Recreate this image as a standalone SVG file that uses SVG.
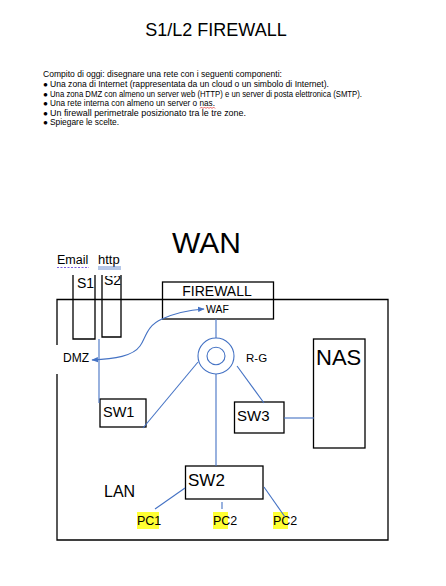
<svg xmlns="http://www.w3.org/2000/svg" width="446" height="586" viewBox="0 0 446 586">
<defs>
<style>
text{font-family:"Liberation Sans",Arial,sans-serif;fill:#000}
.box{fill:none;stroke:#000;stroke-width:1.3}
.ln{fill:none;stroke:#4472C4;stroke-width:1.1}
.p{font-size:8.2px}
.hl{fill:#FFFF33}
</style>
<marker id="ah" viewBox="0 0 10 10" refX="9" refY="5" markerWidth="6" markerHeight="6" orient="auto-start-reverse">
<path d="M0,1 L10,5 L0,9 z" fill="#4472C4"/>
</marker>
<clipPath id="srv"><rect x="60" y="276" width="80" height="80"/></clipPath>
</defs>
<rect width="446" height="586" fill="#fff"/>

<g id="title"><text x="216" y="36" font-size="18" text-anchor="middle">S1/L2 FIREWALL</text></g>

<g id="task">
<text class="p" x="43" y="77" textLength="239" lengthAdjust="spacingAndGlyphs">Compito di oggi: disegnare una rete con i seguenti componenti:</text>
<text class="p" x="43" y="87">●</text><text class="p" x="50" y="87" textLength="279" lengthAdjust="spacingAndGlyphs">Una zona di Internet (rappresentata da un cloud o un simbolo di Internet).</text>
<text class="p" x="43" y="96.5">●</text><text class="p" x="50" y="96.5" textLength="312" lengthAdjust="spacingAndGlyphs">Una zona DMZ con almeno un server web (HTTP) e un server di posta elettronica (SMTP).</text>
<text class="p" x="43" y="106">●</text><text class="p" x="50" y="106" textLength="165" lengthAdjust="spacingAndGlyphs">Una rete interna con almeno un server o nas.</text>
<text class="p" x="43" y="115.5">●</text><text class="p" x="50" y="115.5" textLength="196" lengthAdjust="spacingAndGlyphs">Un firewall perimetrale posizionato tra le tre zone.</text>
<text class="p" x="43" y="125">●</text><text class="p" x="50" y="125" textLength="69" lengthAdjust="spacingAndGlyphs">Spiegare le scelte.</text>
<path d="M200,108.5 l1.5,-1.5 l1.5,1.5 l1.5,-1.5 l1.5,1.5 l1.5,-1.5 l1.5,1.5 l1.5,-1.5 l1.5,1.5 l1.5,-1.5 l1.5,1.5" fill="none" stroke="#e02020" stroke-width="0.7"/>
</g>

<g id="wan"><text x="172" y="253" font-size="30">WAN</text></g>

<g id="zone">
<path class="box" d="M57,345 V299.5 H388 V540 H57 V374"/>
</g>

<g id="labels">
<text x="57" y="264" font-size="12.5">Email</text>
<path d="M57,267.5 H89" stroke="#7b5ce0" stroke-width="1.2" stroke-dasharray="2,1.5"/>
<text x="98" y="264" font-size="13">http</text>
<path d="M98,267 H121 M98,269 H121" stroke="#4472C4" stroke-width="0.8"/>
<text x="63" y="362" font-size="12">DMZ</text>
<text x="104" y="497" font-size="16">LAN</text>
</g>

<g id="s1">
<path class="box" d="M73,275 V339 H95 V275"/>
<text x="77" y="288" font-size="14" clip-path="url(#srv)">S1</text>
</g>
<g id="s2">
<path class="box" d="M102,275 V337 H121 V275"/>
<text x="104" y="285" font-size="14" clip-path="url(#srv)">S2</text>
</g>

<g id="firewall">
<rect class="box" x="162.5" y="282" width="111" height="37"/>
<text x="217" y="296" font-size="14" text-anchor="middle">FIREWALL</text>
<text x="206" y="313" font-size="10.5">WAF</text>
</g>

<g id="router">
<circle cx="216" cy="356" r="18" fill="#fff" stroke="#4472C4" stroke-width="1.1"/>
<ellipse cx="216" cy="356" rx="9" ry="8.7" fill="none" stroke="#4472C4" stroke-width="1.1"/>
<text x="246" y="362" font-size="11.5">R-G</text>
</g>

<g id="sw1">
<rect class="box" x="100" y="399" width="46" height="28"/>
<text x="103" y="417" font-size="14.5">SW1</text>
</g>
<g id="sw3">
<rect class="box" x="234.5" y="402" width="49.5" height="31"/>
<text x="237" y="421" font-size="15">SW3</text>
</g>
<g id="nas">
<rect class="box" x="313.5" y="339" width="51.5" height="109"/>
<text x="316" y="365" font-size="22">NAS</text>
</g>
<g id="sw2">
<rect class="box" x="185.5" y="466" width="77.5" height="33"/>
<text x="188" y="486" font-size="17">SW2</text>
</g>

<g id="pcs">
<rect class="hl" x="137" y="512" width="22" height="17"/>
<text x="137" y="525" font-size="12.5">PC1</text>
<rect class="hl" x="213" y="512" width="15" height="17"/>
<text x="213" y="525" font-size="12.5">PC2</text>
<rect class="hl" x="273" y="512" width="15" height="17"/>
<text x="273" y="525" font-size="12.5">PC2</text>
</g>

<g id="connectors">
<path class="ln" d="M92,360 C115,359 133,356 140,346 C146,338 146,326 162,319 C175,313 190,310 204,309" marker-start="url(#ah)" marker-end="url(#ah)"/>
<path class="ln" d="M99,339 V403"/>
<path class="ln" d="M216,319 V338"/>
<path class="ln" d="M216,374 V466"/>
<path class="ln" d="M143,428 L198,362"/>
<path class="ln" d="M237,366 L264,403"/>
<path class="ln" d="M284,418 H314"/>
<path class="ln" d="M185,488 L155,509"/>
<path class="ln" d="M222,502 V509"/>
<path class="ln" d="M264,487 L285,517"/>
</g>
</svg>
